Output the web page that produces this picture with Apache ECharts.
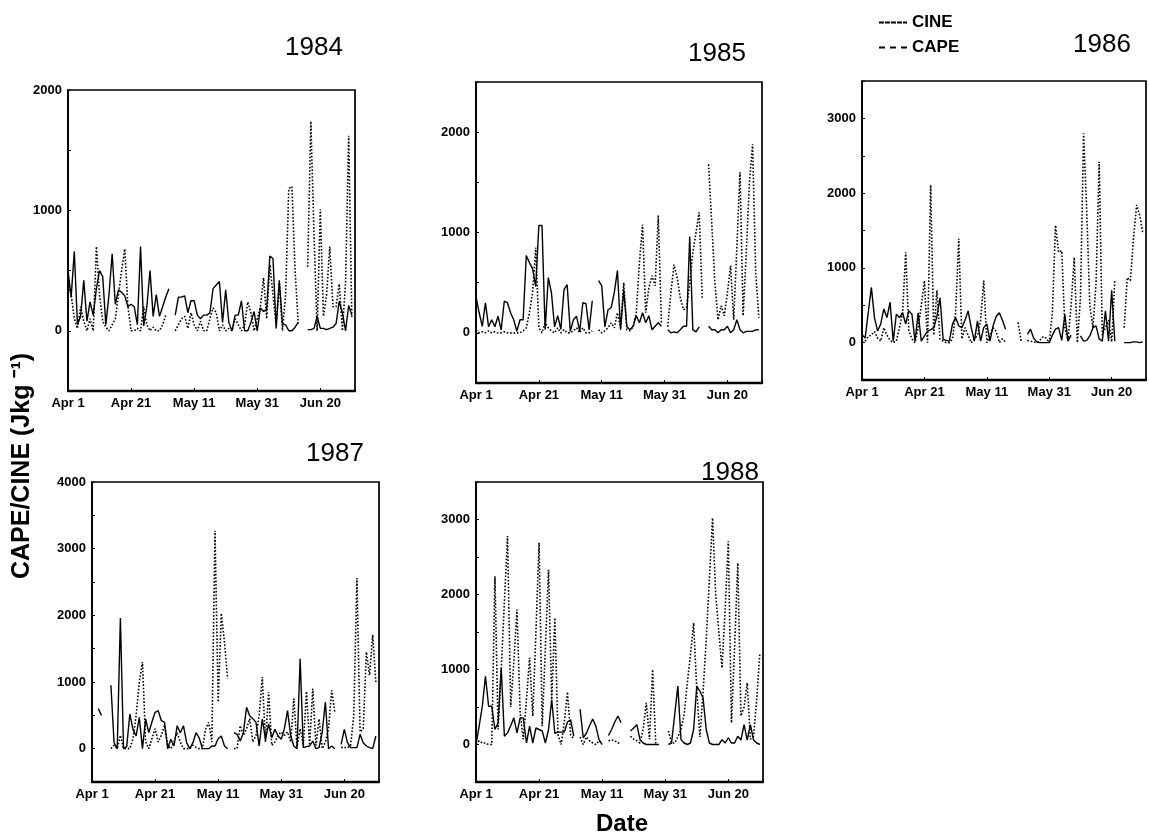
<!DOCTYPE html>
<html>
<head>
<meta charset="utf-8">
<title>CAPE and CINE, April-June 1984-1988</title>
<script src="https://cdn.jsdelivr.net/npm/echarts/dist/echarts.min.js"></script>
<style>
  html, body { margin: 0; padding: 0; background: #fff; }
  #chart { width: 1149px; height: 838px; }
</style>
</head>
<body>
<div id="chart"></div>
<script>
// Daily soundings, day 0 = Apr 1 ... day 90 = Jun 29. null = no sounding.
const tickDays = [0, 20, 40, 60, 80];
const tickLabels = ['Apr 1', 'Apr 21', 'May 11', 'May 31', 'Jun 20'];
const years = ['1984', '1985', '1986', '1987', '1988'];
const yMax = [2000, 2500, 3500, 4000, 3500];

const cine1984 = [500,280,660,50,120,420,80,240,130,350, 500,450,50,300,640,220,340,320,290,200,
  220,200,50,700,40,200,500,120,300,120, 200,280,350,null,130,280,280,290,150,250,
  250,130,100,130,130,150,350,380,410,70, 340,70,0,130,130,250,0,0,70,160,
  0,190,160,180,620,600,20,420,60,50, 0,0,30,70,null,null,10,10,20,120,
  20,20,10,20,30,60,245,150,0,210,130];
const cape1984 = [400,300,100,20,200,80,0,100,0,700, 300,80,30,0,50,100,300,500,680,200,
  0,0,20,0,200,50,0,30,0,0, 50,130,null,null,0,50,100,120,20,150,
  50,0,80,0,0,100,190,150,0,50, 0,20,0,100,50,0,50,240,150,0,
  100,200,440,100,550,300,50,400,0,300, 1180,1200,500,60,null,null,530,1740,800,0,
  1010,120,300,700,200,200,390,0,400,1620,100];

const cine1985 = [360,200,65,300,60,130,60,165,30,315, 300,200,130,15,130,130,770,700,640,460,
  1070,1070,30,550,400,60,170,35,430,480, 15,130,165,15,300,290,30,320,null,520,
  470,60,230,250,400,620,30,430,60,30, 65,170,100,200,100,170,30,65,100,65,
  null,30,0,10,0,30,65,65,960,30, 10,60,null,null,65,30,30,0,30,30,
  65,0,30,130,30,0,15,15,15,30,30];
const cape1985 = [30,0,10,0,20,0,10,0,0,10, 0,0,0,0,0,20,50,200,400,850,
  50,0,100,50,20,0,50,0,30,0, 0,20,50,0,50,0,0,20,null,30,
  0,20,50,100,50,200,50,500,30,20, 60,200,700,1080,200,450,570,470,1170,100,
  null,60,400,680,550,350,230,250,500,800, 1000,1200,350,null,1680,1100,500,130,270,170,
  400,670,130,850,1600,170,800,1500,1880,600,150];

const cine1986 = [110,60,400,740,335,155,250,450,335,540, 20,380,335,400,250,425,380,20,400,20,
  90,155,170,200,350,600,45,30,20,250, 335,225,200,300,425,200,20,290,20,200,
  250,20,225,350,400,300,180,null,null,null, null,null,null,110,180,60,10,0,0,0,
  0,100,180,200,30,380,20,100,null,null, 90,20,30,90,200,225,50,20,425,20,
  700,20,null,null,0,0,0,10,10,0,10];
const cape1986 = [0,20,80,100,150,60,20,200,100,30, 0,20,200,400,1210,155,50,0,200,500,
  830,0,2110,100,700,50,20,0,0,50, 400,1390,50,200,100,0,50,100,300,830,
  0,100,200,150,0,50,10,null,null,null, 270,20,null,30,20,10,0,30,80,60,
  0,400,1570,1210,1230,200,30,500,1140,0, 600,2800,1770,500,200,800,2420,100,200,300,
  10,830,null,null,200,870,830,1400,1840,1700,1460];

const cine1987 = [null,null,600,500,null,null,950,90,0,1960, 0,30,520,290,190,470,0,445,240,400,
  545,570,420,395,0,140,40,345,240,345, 90,0,90,240,160,0,0,0,40,40,
  150,190,40,0,null,240,215,115,240,620, 495,450,395,40,445,140,370,165,290,190,
  140,300,570,190,40,0,1350,15,30,40, 115,0,15,250,700,0,40,0,null,65,
  290,90,15,15,15,215,90,40,15,0,190];
const cape1987 = [null,null,null,null,null,null,0,50,0,200, 0,0,0,150,500,1000,1300,100,0,150,
  300,100,200,350,50,0,100,240,100,0, 0,0,50,20,0,0,290,395,100,3270,
  700,2030,1600,1050,null,0,0,345,200,300, 450,100,200,500,1075,100,850,50,100,200,
  250,200,250,100,750,30,300,50,860,50, 900,50,445,0,100,300,875,545,null,20,
  20,10,50,500,2560,250,300,1450,1100,1710,1000];

const cine1988 = [0,245,510,910,510,510,200,290,1020,110, 155,250,355,155,355,355,20,245,20,220,
  200,180,20,200,600,150,165,165,165,300, 330,110,null,470,90,150,250,340,245,65,
  0,null,120,200,300,380,290,null,null,180, 220,265,65,20,0,0,0,0,0,null,
  null,0,20,400,780,65,20,0,20,200, 780,710,620,200,20,0,0,0,65,20,
  90,20,20,110,60,265,60,265,60,20,0];
const cape1988 = [0,50,20,20,0,0,2245,200,1000,1900, 2780,500,1100,1800,420,70,600,1155,380,1500,
  2690,245,1300,2330,600,1690,130,0,300,700, 130,70,null,100,0,100,50,20,0,50,
  20,null,50,60,50,20,25,null,null,110, 70,50,20,200,555,70,1000,0,null,null,
  null,180,20,20,100,200,400,820,1200,1620, 730,100,700,1400,2200,3020,2000,1500,1020,1800,
  2710,290,1300,2420,380,500,820,70,110,600,1220];

const cineByYear = [cine1984, cine1985, cine1986, cine1987, cine1988];
const capeByYear = [cape1984, cape1985, cape1986, cape1987, cape1988];

// Panel frames (pixels) and year-label anchors
const frames = [
  { left: 68,  top: 90,  width: 287, height: 301 },
  { left: 476, top: 82,  width: 286, height: 301 },
  { left: 862, top: 81,  width: 290, height: 299 },
  { left: 92,  top: 482, width: 287, height: 300 },
  { left: 476, top: 482, width: 287, height: 300 }
];
const yearAnchors = [[314, 48], [717, 54], [1102, 45], [335, 454], [730, 473]];

const FONT = '"Liberation Sans", Arial, Helvetica, sans-serif';

// Legend keys drawn as short dash patterns
const CINE_KEY = 'path://M0,0h5v2h-5z M6,0h5v2h-5z M12,0h5v2h-5z M18,0h5v2h-5z M24,0h4v2h-4z';
const CAPE_KEY = 'path://M0,0h6v2h-6z M11,0h6v2h-6z M22,0h6v2h-6z';

function toPairs(arr) {
  return arr.map((v, i) => [i, v === null ? null : v]);
}
function dayLabel(v) {
  const k = tickDays.indexOf(v);
  return k >= 0 ? tickLabels[k] : '';
}

const grid = [], xAxis = [], yAxis = [], series = [], graphic = [];

years.forEach((yr, i) => {
  grid.push(Object.assign({
    show: true, borderColor: '#000', borderWidth: 1.7, backgroundColor: 'transparent'
  }, frames[i]));

  xAxis.push({
    gridIndex: i, type: 'value', min: 0, max: 91, interval: 20,
    axisLine: { onZero: false, lineStyle: { color: '#000', width: 2.4 } },
    axisTick: { inside: true, length: 3, lineStyle: { color: '#000', width: 1 } },
    axisLabel: {
      formatter: dayLabel, color: '#000', fontFamily: FONT, fontWeight: 'bold',
      fontSize: 13, margin: 6
    },
    splitLine: { show: false }
  });

  yAxis.push({
    gridIndex: i, type: 'value', min: -500, max: yMax[i], interval: 500,
    axisLine: { onZero: false, lineStyle: { color: '#000', width: 1.7 } },
    axisTick: { inside: true, length: 3, lineStyle: { color: '#000', width: 1 } },
    axisLabel: {
      formatter: v => (v >= 0 && v % 1000 === 0) ? String(v) : '',
      color: '#000', fontFamily: FONT, fontWeight: 'bold', fontSize: 13, margin: 6
    },
    splitLine: { show: false }
  });

  series.push({
    name: 'CINE', type: 'line', xAxisIndex: i, yAxisIndex: i,
    data: toPairs(cineByYear[i]), symbol: 'none', showSymbol: false, connectNulls: false,
    lineStyle: { color: '#000', width: 1.4, type: 'solid' }, itemStyle: { color: '#000' },
    z: 3
  });
  series.push({
    name: 'CAPE', type: 'line', xAxisIndex: i, yAxisIndex: i,
    data: toPairs(capeByYear[i]), symbol: 'none', showSymbol: false, connectNulls: false,
    lineStyle: { color: '#000', width: 1.6, type: [1.6, 1.8] }, itemStyle: { color: '#000' },
    z: 2
  });

  graphic.push({
    type: 'text', x: yearAnchors[i][0], y: yearAnchors[i][1], z: 10,
    style: {
      text: yr, font: '26px ' + FONT, fill: '#000',
      align: 'center', verticalAlign: 'middle',
      textAlign: 'center', textVerticalAlign: 'middle'
    }
  });
});

graphic.push({
  type: 'text', x: 22, y: 466, rotation: Math.PI / 2,
  style: {
    text: 'CAPE/CINE (Jkg \u207B\u00B9)', font: 'bold 25px ' + FONT, fill: '#000',
    align: 'center', verticalAlign: 'middle', textAlign: 'center', textVerticalAlign: 'middle'
  }
});
graphic.push({
  type: 'text', x: 622, y: 824,
  style: {
    text: 'Date', font: 'bold 24px ' + FONT, fill: '#000',
    align: 'center', verticalAlign: 'middle', textAlign: 'center', textVerticalAlign: 'middle'
  }
});

const chart = echarts.init(document.getElementById('chart'), null, { renderer: 'canvas' });
chart.setOption({
  backgroundColor: '#fff',
  animation: false,
  legend: {
    orient: 'vertical', left: 874, top: 8, itemWidth: 28, itemHeight: 2, itemGap: 6,
    symbolKeepAspect: false, selectedMode: false,
    textStyle: { fontFamily: FONT, fontWeight: 'bold', fontSize: 17, lineHeight: 19, color: '#000' },
    data: [{ name: 'CINE', icon: CINE_KEY }, { name: 'CAPE', icon: CAPE_KEY }]
  },
  grid: grid,
  xAxis: xAxis,
  yAxis: yAxis,
  series: series,
  graphic: graphic
});
</script>
</body>
</html>
